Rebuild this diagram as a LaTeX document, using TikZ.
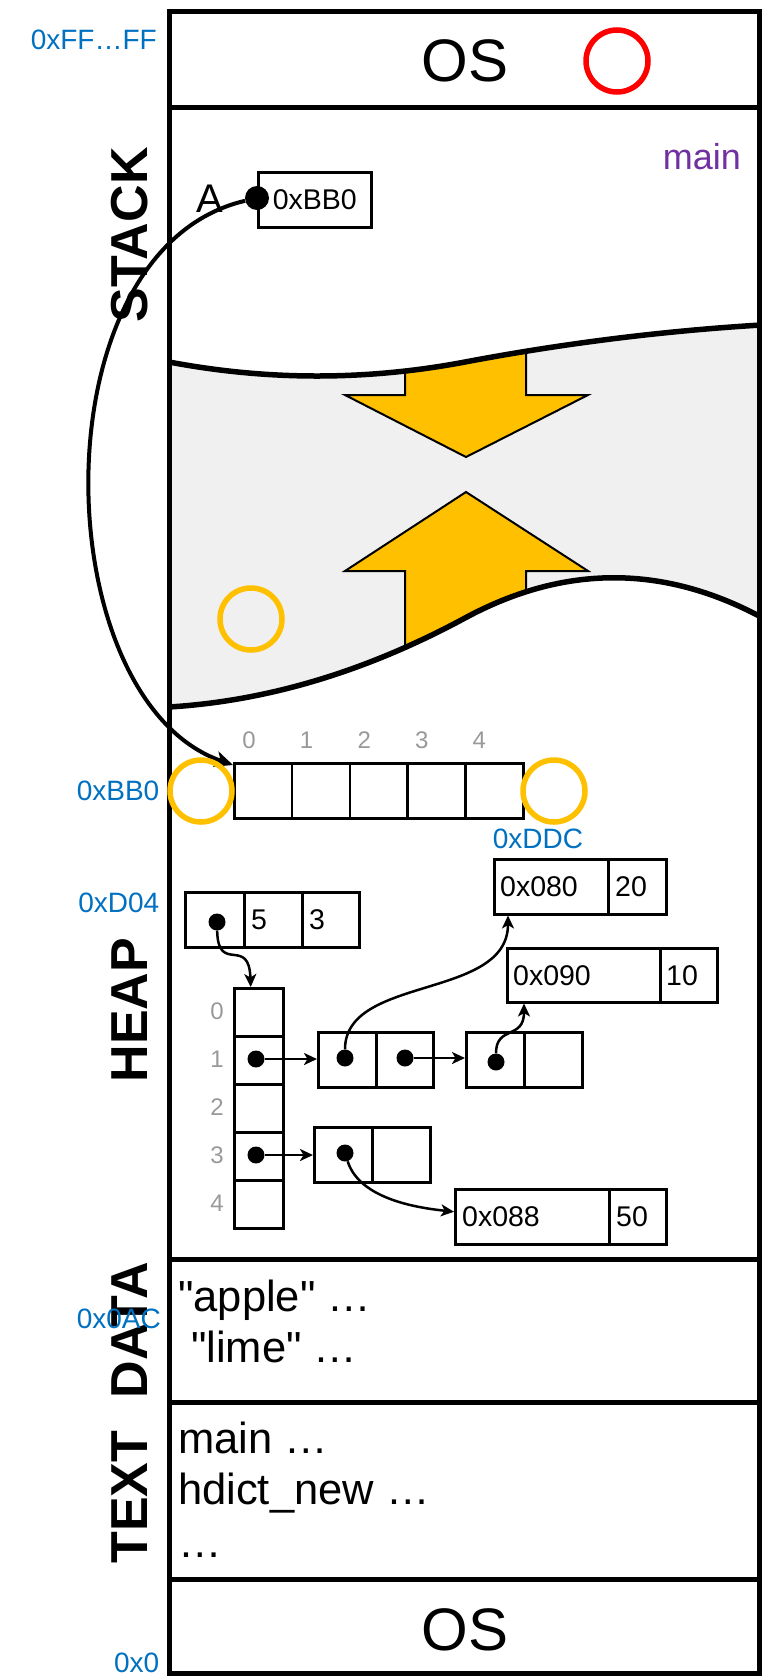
\documentclass[tikz,border=0pt]{standalone}
\usepackage{fontspec}
\setmainfont{Liberation Sans}[Ligatures=TeXOff]
\usetikzlibrary{arrows.meta,calc}
\definecolor{addrblue}{HTML}{0070C0}
\definecolor{framepurple}{HTML}{7030A0}
\definecolor{idxgray}{HTML}{999999}
\definecolor{gapgray}{HTML}{F0F0F0}
\definecolor{growyellow}{HTML}{FFC000}
\tikzset{
  cell/.style={draw, line width=2.5pt, inner sep=0pt, anchor=north west, minimum height=55pt},
  ptr/.style={circle, fill=black, inner sep=0pt, minimum size=17pt},
  link/.style={line width=2.5pt, -{Stealth[length=13pt,width=12pt,inset=3.5pt]}},
  addr/.style={text=addrblue, font=\fontsize{28}{30}\selectfont, inner sep=0pt},
  idx/.style={text=idxgray, font=\fontsize{24}{26}\selectfont, inner sep=0pt},
  segname/.style={rotate=90, font=\fontsize{52}{56}\selectfont\bfseries, inner sep=0pt},
  celltext/.style={font=\fontsize{28.5}{30}\selectfont, inner sep=0pt, anchor=west},
  listing/.style={font=\fontsize{43.5}{46}\selectfont, inner sep=0pt, anchor=base west},
  ring/.style={line width=5.5pt},
  growarrow/.style={fill=growyellow, draw=black, line width=2pt, line join=miter},
  segline/.style={line width=5pt},
  wave/.style={line width=5.5pt},
}
\begin{document}
\begin{tikzpicture}[x=1pt,y=-1pt]
\useasboundingbox (0,0) rectangle (761,1676);

% ---------- free space between stack and heap ----------
\fill[gapgray] (169,362) .. controls (267.67,380.67) and (366.33,380.67) .. (465,362)
  .. controls (563.67,343.33) and (662.33,331) .. (761,325)
  -- (761,617) .. controls (662.33,564.33) and (563.67,564.67) .. (465,618)
  .. controls (366.33,671.33) and (267.67,701) .. (169,707) -- cycle;
\begin{scope}
  \clip (169,362) .. controls (267.67,380.67) and (366.33,380.67) .. (465,362)
    .. controls (563.67,343.33) and (662.33,331) .. (761,325)
    -- (761,617) .. controls (662.33,564.33) and (563.67,564.67) .. (465,618)
    .. controls (366.33,671.33) and (267.67,701) .. (169,707) -- cycle;
  % stack grows down, heap grows up
  \draw[growarrow] (405,300) -- (405,395) -- (345,395) -- (466,457) -- (588,395)
    -- (526,395) -- (526,300) -- cycle;
  \draw[growarrow] (405,720) -- (405,571) -- (345,571) -- (466,492) -- (588,571)
    -- (526,571) -- (526,720) -- cycle;
\end{scope}
\draw[wave] (169,362) .. controls (267.67,380.67) and (366.33,380.67) .. (465,362)
  .. controls (563.67,343.33) and (662.33,331) .. (761,325);
\draw[wave] (761,617) .. controls (662.33,564.33) and (563.67,564.67) .. (465,618)
  .. controls (366.33,671.33) and (267.67,701) .. (169,707);

% ---------- memory column ----------
\draw[segline] (169,11) rectangle (759,1673);
\draw[segline] (169,107) -- (759,107);
\draw[segline] (169,1259) -- (759,1259);
\draw[segline] (169,1402) -- (759,1402);
\draw[segline] (169,1579) -- (759,1579);

\node[font=\fontsize{60}{64}\selectfont, inner sep=0pt] (ostop) at (465,61) {OS};
\node[font=\fontsize{60}{64}\selectfont, inner sep=0pt] (osbot) at (465,1630) {OS};

\node[segname] (lstack) at (130,235) {STACK};
\node[segname] (lheap) at (130,1010) {HEAP};
\node[segname] (ldata) at (130,1330) {DATA};
\node[segname] (ltext) at (130,1497) {TEXT};

% ---------- addresses ----------
\node[addr, anchor=east] (adtop) at (157,40) {0xFF…FF};
\node[addr, anchor=east] (adbb0) at (159.5,791) {0xBB0};
\node[addr, anchor=east] (add04) at (159.5,903) {0xD04};
\node[addr, anchor=east] (adzero) at (159.5,1663) {0x0};
\node[addr] (adddc) at (538,839) {0xDDC};

% ---------- stack frame ----------
\node[text=framepurple, font=\fontsize{36}{40}\selectfont, inner sep=0pt] (fmain) at (702,157) {main};
\node[font=\fontsize{40}{44}\selectfont, inner sep=0pt] (varA) at (210,199) {A};
\node[cell, minimum width=113pt, font=\fontsize{28.5}{30}\selectfont] (sb) at (257,171) {0xBB0};

% ---------- array at 0xBB0 ----------
\foreach \i in {0,...,4} {
  \node[cell, minimum width=57.8pt] (a\i) at (233+57.8*\i,762) {};
  \node[idx] (ai\i) at (249+57.6*\i,740) {\i};
}

% ---------- hash dictionary header at 0xD04 ----------
\node[cell, minimum width=59pt] (d0) at (184,891) {};
\node[cell, minimum width=58pt] (d1) at (243,891) {};
\node[cell, minimum width=57pt] (d2) at (301,891) {};
\node[celltext] (d1t) at ([xshift=8pt]d1.west) {5};
\node[celltext] (d2t) at ([xshift=8pt]d2.west) {3};

% ---------- bucket table ----------
\foreach \i in {0,...,4} {
  \node[cell, minimum width=49pt, minimum height=48pt] (v\i) at (233,987+48*\i) {};
  \node[idx] (vi\i) at (217,1011+48*\i) {\i};
}

% ---------- chain nodes ----------
\node[cell, minimum width=58pt] (n1a) at (317,1031) {};
\node[cell, minimum width=57pt] (n1b) at (375,1031) {};
\node[cell, minimum width=58pt] (n2a) at (465,1031) {};
\node[cell, minimum width=58pt] (n2b) at (523,1031) {};
\node[cell, minimum width=58pt] (n3a) at (313,1126) {};
\node[cell, minimum width=58pt] (n3b) at (371,1126) {};

% ---------- entries ----------
\node[cell, minimum width=114pt] (b80) at (493,858) {};
\node[cell, minimum width=58pt] (c80) at (607,858) {};
\node[celltext] (b80t) at ([xshift=7pt]b80.west) {0x080};
\node[celltext] (c80t) at ([xshift=8pt]c80.west) {20};

\node[cell, minimum width=153pt, minimum height=54pt] (b90) at (506,947) {};
\node[cell, minimum width=57pt, minimum height=54pt] (c90) at (659,947) {};
\node[celltext] (b90t) at ([xshift=7pt]b90.west) {0x090};
\node[celltext] (c90t) at ([xshift=7pt]c90.west) {10};

\node[cell, minimum width=154pt] (b88) at (454,1188) {};
\node[cell, minimum width=57pt] (c88) at (608,1188) {};
\node[celltext] (b88t) at ([xshift=8pt]b88.west) {0x088};
\node[celltext] (c88t) at ([xshift=8pt]c88.west) {50};

% ---------- pointers ----------
\node[ptr] (pD) at (217,922) {};
\node[ptr] (pv1) at (256,1059) {};
\node[ptr] (pv3) at (256,1155) {};
\node[ptr] (pn1a) at (345,1058) {};
\node[ptr] (pn1b) at (405,1058) {};
\node[ptr] (pn2a) at (496,1062) {};
\node[ptr] (pn3a) at (345,1153) {};

\draw[link] (pD) .. controls (218,975) and (249,935) .. ([xshift=-8pt]v0.north);
\draw[link] (pv1) -- (n1a.west |- pv1);
\draw[link] (pn1b) -- (n2a.west |- pn1b);
\draw[link] (pv3) -- (n3a.west |- pv3);
\draw[link] (pn1a) .. controls (345,975) and (508,1000) .. ([xshift=15pt]b80.south west);
\draw[link] (pn2a) .. controls (496,1025) and (524,1040) .. ([xshift=18pt]b90.south west);
\draw[link] (pn3a) .. controls (360,1200) and (420,1208) .. ([yshift=5pt]b88.west);

% ---------- A points to the array ----------
\node[circle, fill=black, inner sep=0pt, minimum size=24pt] (pA) at (257,198) {};
\draw[line width=4pt, -{Stealth[length=18pt,width=16pt,inset=5pt]}]
  (pA) .. controls (35,250) and (45,700) .. ([yshift=-3pt]a0.north west);

% ---------- markers ----------
\draw[red, ring] (617,61) circle[radius=31];
\draw[growyellow, ring] (251,619) circle[radius=31];
\draw[growyellow, ring] (201,791) circle[radius=31];
\draw[growyellow, ring] (554,791) circle[radius=31];

% ---------- data and text segments ----------
\node[listing] (s1) at (178,1311) {"apple" …};
\node[listing] (s2) at (191,1362) {"lime" …};
\node[listing] (f1) at (178,1453) {main …};
\node[listing] (f2) at (178,1504) {hdict\_new …};
\node[listing] (f3) at (178,1557) {…};

% address label sits over the segment name
\node[addr, anchor=east] (ad0ac) at (161,1319) {0x0AC};
\end{tikzpicture}
\end{document}
